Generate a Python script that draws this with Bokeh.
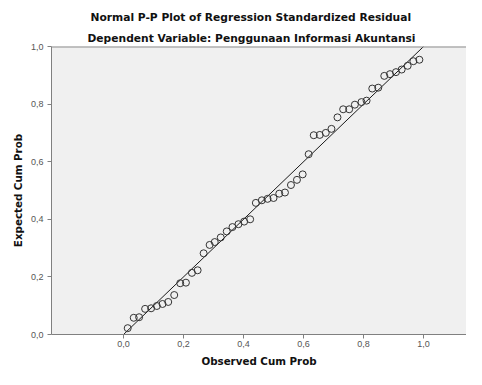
from bokeh.plotting import figure
from bokeh.models import Range1d, FixedTicker, Title, Span, ColumnDataSource
from bokeh.embed import file_html
from bokeh.resources import INLINE

title_text = "Normal P-P Plot of Regression Standardized Residual"
subtitle_text = "Dependent Variable: Penggunaan Informasi Akuntansi"
x_label = "Observed Cum Prob"
y_label = "Expected Cum Prob"

observed_cum_prob = [0.014, 0.034, 0.052, 0.072, 0.092, 0.111, 0.130, 0.149, 0.169, 0.189,
                     0.208, 0.228, 0.247, 0.267, 0.287, 0.304, 0.324, 0.344, 0.363, 0.383,
                     0.402, 0.422, 0.441, 0.461, 0.480, 0.500, 0.519, 0.538, 0.558, 0.578,
                     0.597, 0.617, 0.634, 0.654, 0.674, 0.693, 0.713, 0.732, 0.752, 0.771,
                     0.793, 0.810, 0.829, 0.849, 0.869, 0.888, 0.908, 0.927, 0.947, 0.966,
                     0.986]
expected_cum_prob = [0.022, 0.058, 0.060, 0.089, 0.091, 0.099, 0.106, 0.113, 0.137, 0.178,
                     0.180, 0.214, 0.223, 0.282, 0.311, 0.321, 0.337, 0.358, 0.373, 0.383,
                     0.392, 0.400, 0.457, 0.466, 0.471, 0.474, 0.489, 0.493, 0.519, 0.537,
                     0.556, 0.626, 0.692, 0.693, 0.700, 0.714, 0.754, 0.782, 0.782, 0.798,
                     0.807, 0.812, 0.854, 0.857, 0.898, 0.904, 0.911, 0.920, 0.933, 0.949,
                     0.954]
diag_x = [0.0, 1.0]
diag_y = [0.0, 1.0]

x_ticks = [0.0, 0.2, 0.4, 0.6, 0.8, 1.0]
x_tick_labels = ["0,0", "0,2", "0,4", "0,6", "0,8", "1,0"]
y_ticks = [0.0, 0.2, 0.4, 0.6, 0.8, 1.0]
y_tick_labels = ["0,0", "0,2", "0,4", "0,6", "0,8", "1,0"]

p = figure(width=466, height=369, output_backend="svg", toolbar_location=None,
           x_range=Range1d(-0.24, 1.143), y_range=Range1d(0, 1),
           min_border_left=51, min_border_right=0, min_border_top=46, min_border_bottom=29)

p.background_fill_color = "#f0f0f0"
p.border_fill_color = "white"
p.outline_line_color = None
p.grid.visible = False

p.add_layout(Title(text=subtitle_text, align="left", offset=36, text_font="DejaVu Sans",
                   text_font_size="10.7px", text_font_style="bold", text_color="#111111",
                   standoff=3), "above")
p.add_layout(Title(text=title_text, align="left", offset=39, text_font="DejaVu Sans",
                   text_font_size="10.7px", text_font_style="bold", text_color="#111111",
                   standoff=9), "above")

src = ColumnDataSource(dict(x=observed_cum_prob, y=expected_cum_prob))
p.line(diag_x, diag_y, line_color="#1a1a1a", line_width=1)
p.scatter("x", "y", source=src, marker="circle", size=7, fill_color=None,
          line_color="#333333", line_width=1)

p.add_layout(Span(location=1.0, dimension="width", line_color="#8c8c8c", line_width=2))

for ax, ticks, labels, lab in ((p.xaxis[0], x_ticks, x_tick_labels, x_label),
                               (p.yaxis[0], y_ticks, y_tick_labels, y_label)):
    ax.ticker = FixedTicker(ticks=ticks)
    ax.major_label_overrides = {t: l for t, l in zip(ticks, labels)}
    ax.minor_tick_line_color = None
    ax.major_tick_in = 0
    ax.major_tick_out = 4
    ax.axis_line_color = "#808080"
    ax.major_tick_line_color = "#808080"
    ax.major_label_text_font = "Liberation Sans"
    ax.major_label_text_font_size = "9px"
    ax.major_label_text_color = "#555555"
    ax.axis_label = lab
    ax.axis_label_text_font = "DejaVu Sans"
    ax.axis_label_text_font_size = "10.3px"
    ax.axis_label_text_font_style = "bold"
    ax.axis_label_text_color = "#111111"

p.xaxis.major_label_standoff = 2
p.xaxis.axis_label_standoff = 5
p.yaxis.major_label_standoff = 4
p.yaxis.axis_label_standoff = 4

open("out.html", "w").write(file_html(p, INLINE))
